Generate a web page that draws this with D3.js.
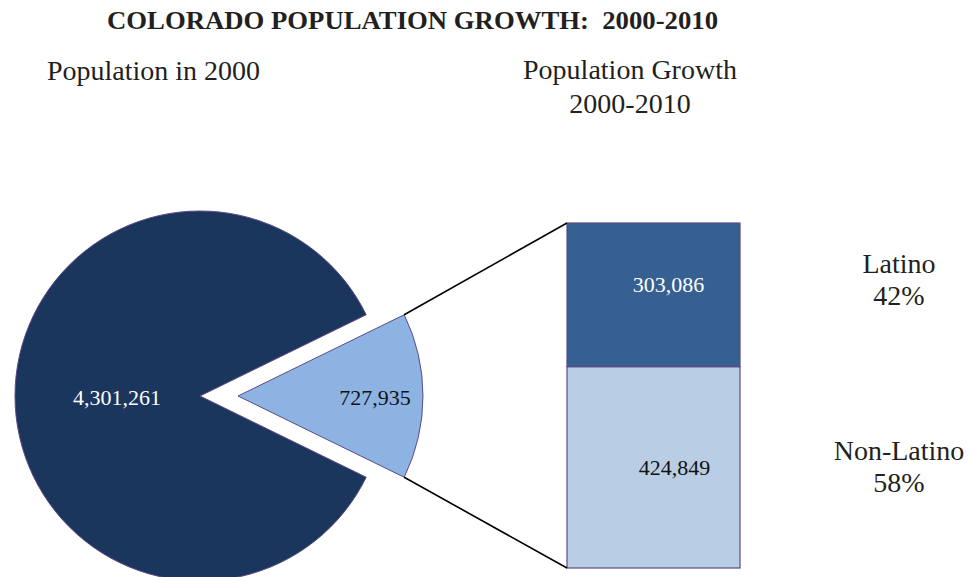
<!DOCTYPE html>
<html>
<head>
<meta charset="utf-8">
<script src="https://cdn.jsdelivr.net/npm/d3@7"></script>
<style>
  body { margin: 0; background: #fff; }
  svg text { font-family: "Liberation Serif", "Times New Roman", "DejaVu Serif", serif; white-space: pre; }
</style>
</head>
<body>
<svg width="972" height="577"></svg>
<script>
// pie: population in 2000 vs growth
var pieLabels = ["Population in 2000", "Growth 2000-2010"];
var pieValues = [4301261, 727935];
var pieColors = ["#1a365d", "#8db3e2"];

// bar: growth split
var barLabels = ["Non-Latino", "Latino"];
var barValues = [424849, 303086];
var barColors = ["#b9cde5", "#366092"];

var svg = d3.select("svg");
var fmt = d3.format(",");
var serif = "Liberation Serif, Times New Roman, serif";

// title and headings
svg.append("text")
  .attr("x", 107).attr("y", 29)
  .attr("font-family", serif)
  .attr("font-size", 26).attr("font-weight", "bold").attr("fill", "#231f20")
  .attr("textLength", 611).attr("lengthAdjust", "spacingAndGlyphs")
  .text("COLORADO POPULATION GROWTH:  2000-2010");

svg.append("text")
  .attr("x", 47).attr("y", 80)
  .attr("font-family", serif)
  .attr("font-size", 28).attr("fill", "#231f20")
  .text("Population in 2000");

svg.append("text")
  .attr("x", 630).attr("y", 79)
  .attr("font-family", serif)
  .attr("font-size", 28).attr("fill", "#231f20").attr("text-anchor", "middle")
  .text("Population Growth");
svg.append("text")
  .attr("x", 630).attr("y", 113)
  .attr("font-family", serif)
  .attr("font-size", 28).attr("fill", "#231f20").attr("text-anchor", "middle")
  .text("2000-2010");

// pie
var cx = 200, cy = 396, r = 185, explode = 38;
var total = d3.sum(pieValues);
var half = Math.PI * pieValues[1] / total;

var pie = d3.pie().sort(null)
  .startAngle(Math.PI / 2 + half)
  .endAngle(Math.PI / 2 + half + 2 * Math.PI);
var arcs = pie(pieValues);

var arc = d3.arc().innerRadius(0).outerRadius(r);

var pieG = svg.append("g").attr("transform", "translate(" + cx + "," + cy + ")");

pieG.selectAll("path")
  .data(arcs)
  .enter()
  .append("path")
  .attr("transform", function (d, i) {
    if (i === 0) return null;
    var a = (d.startAngle + d.endAngle) / 2;
    return "translate(" + explode * Math.sin(a) + "," + -explode * Math.cos(a) + ")";
  })
  .attr("d", arc)
  .attr("fill", function (d, i) { return pieColors[i]; })
  .attr("stroke", "#5b4a86")
  .attr("stroke-width", 1);

// pie labels
var labelR = [83, 137];
pieG.selectAll("text.val")
  .data(arcs)
  .enter()
  .append("text")
  .attr("class", "val")
  .attr("transform", function (d, i) {
    var a = (d.startAngle + d.endAngle) / 2;
    var off = i === 0 ? 0 : explode;
    var rr = labelR[i] + off;
    return "translate(" + rr * Math.sin(a) + "," + (-rr * Math.cos(a) + 9) + ")";
  })
  .attr("text-anchor", "middle")
  .attr("font-family", serif)
  .attr("font-size", 22)
  .attr("fill", function (d, i) { return i === 0 ? "#fff" : "#111"; })
  .text(function (d) { return fmt(d.value); });

// stacked bar
var barX = 567, barW = 173;
var growthTotal = d3.sum(barValues);
var y = d3.scaleLinear().domain([0, growthTotal]).range([568, 223]);

var stacked = [];
var acc = 0;
for (var i = 0; i < barValues.length; i++) {
  stacked.push({ y0: acc, y1: acc + barValues[i], value: barValues[i], i: i });
  acc += barValues[i];
}

svg.selectAll("rect.seg")
  .data(stacked)
  .enter()
  .append("rect")
  .attr("class", "seg")
  .attr("x", barX)
  .attr("y", function (d) { return y(d.y1); })
  .attr("width", barW)
  .attr("height", function (d) { return y(d.y0) - y(d.y1); })
  .attr("fill", function (d) { return barColors[d.i]; })
  .attr("stroke", "#5b4a86")
  .attr("stroke-width", 1.2);

var segLabelDx = [21, 15];
svg.selectAll("text.seg")
  .data(stacked)
  .enter()
  .append("text")
  .attr("class", "seg")
  .attr("x", function (d) { return barX + barW / 2 + segLabelDx[d.i]; })
  .attr("y", function (d) { return (y(d.y0) + y(d.y1)) / 2 + (d.i === 0 ? 8 : -3); })
  .attr("text-anchor", "middle")
  .attr("font-family", serif)
  .attr("font-size", 22)
  .attr("fill", function (d) { return d.i === 0 ? "#111" : "#fff"; })
  .text(function (d) { return fmt(d.value); });

// right side labels
var sideY = [460, 273];
stacked.forEach(function (d) {
  var t = svg.append("text")
    .attr("x", 899).attr("y", sideY[d.i])
    .attr("font-family", serif)
    .attr("font-size", 28).attr("fill", "#231f20").attr("text-anchor", "middle");
  t.append("tspan").attr("x", 899).text(barLabels[d.i]);
  t.append("tspan").attr("x", 899).attr("dy", 32)
    .text(Math.round(d.value / growthTotal * 100) + "%");
});

// connector lines from the exploded slice to the bar
var s = arcs[1];
var mid = (s.startAngle + s.endAngle) / 2;
var ox = cx + explode * Math.sin(mid), oy = cy - explode * Math.cos(mid);
function edge(a) { return [ox + r * Math.sin(a), oy - r * Math.cos(a)]; }
var e1 = edge(s.startAngle), e2 = edge(s.endAngle);
var pTop = e1[1] < e2[1] ? e1 : e2, pBot = e1[1] < e2[1] ? e2 : e1;
var lines = [
  [pTop, [barX, y(growthTotal)]],
  [pBot, [barX, y(0)]]
];
svg.selectAll("line.conn")
  .data(lines)
  .enter()
  .append("line")
  .attr("class", "conn")
  .attr("x1", function (d) { return d[0][0]; })
  .attr("y1", function (d) { return d[0][1]; })
  .attr("x2", function (d) { return d[1][0]; })
  .attr("y2", function (d) { return d[1][1]; })
  .attr("stroke", "#000")
  .attr("stroke-width", 1.6);
</script>
</body>
</html>
